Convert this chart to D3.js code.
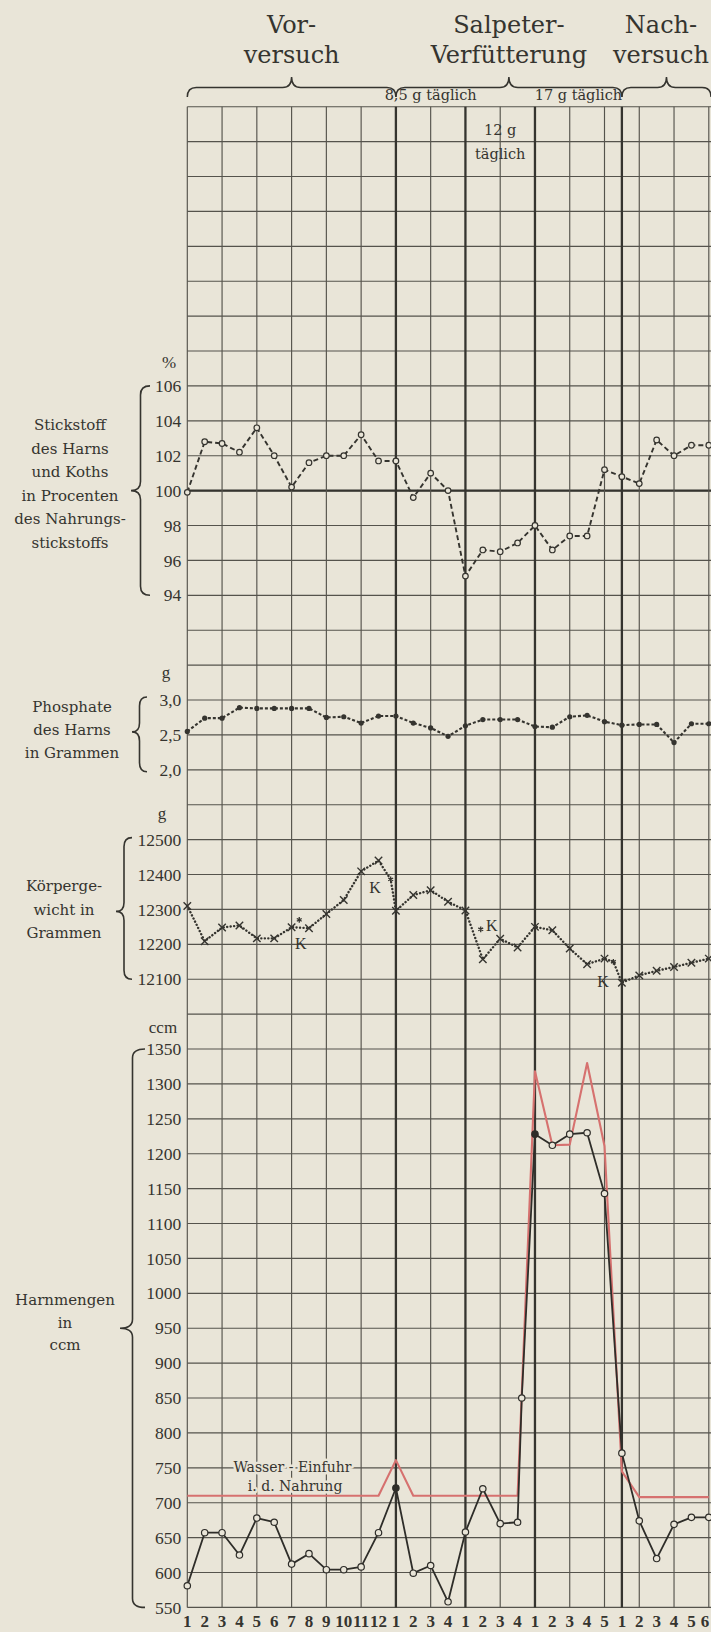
<!DOCTYPE html>
<html>
<head>
<meta charset="utf-8">
<script src="https://cdn.jsdelivr.net/npm/d3@7"></script>
<style>
  html, body { margin: 0; padding: 0; background: #e9e5d8; }
  svg { display: block; }
</style>
</head>
<body>
<svg id="chart" width="711" height="1632"></svg>
<script>
// ---- data ---------------------------------------------------------------
const dayLabels = ["1","2","3","4","5","6","7","8","9","10","11","12",
                   "1","2","3","4", "1","2","3","4", "1","2","3","4","5",
                   "1","2","3","4","5","6"];

const phaseNames = [["Vor-", "versuch"], ["Salpeter-", "Verfütterung"], ["Nach-", "versuch"]];
const phaseStart = [0, 12, 25];
const phaseEnd   = [12, 25, 30.13];

const doseLabels = [["8,5 g täglich"], ["12 g", "täglich"], ["17 g täglich"]];
const doseStart  = [12, 16, 20];
const doseEnd    = [16, 20, 25];

// Stickstoff des Harns und Koths in % des Nahrungsstickstoffs
const nitrogen = [99.9, 102.8, 102.7, 102.2, 103.6, 102.0, 100.2, 101.6, 102.0, 102.0,
                  103.2, 101.7, 101.7, 99.6, 101.0, 100.0, 95.1, 96.6, 96.5, 97.0,
                  98.0, 96.6, 97.4, 97.4, 101.2, 100.8, 100.4, 102.9, 102.0, 102.6, 102.6];
const nitrogenTicks = [94, 96, 98, 100, 102, 104, 106];

// Phosphate des Harns in g
const phosphate = [2.55, 2.74, 2.74, 2.89, 2.88, 2.88, 2.88, 2.88, 2.75, 2.76,
                   2.67, 2.77, 2.77, 2.67, 2.60, 2.48, 2.63, 2.72, 2.72, 2.72,
                   2.62, 2.61, 2.76, 2.78, 2.69, 2.64, 2.65, 2.65, 2.39, 2.66, 2.66];
const phosphateTicks = [2.0, 2.5, 3.0];

// Körpergewicht in g
const weight = [12310, 12209, 12248, 12254, 12217, 12217, 12249, 12246, 12287, 12327,
                12409, 12440, 12296, 12341, 12355, 12322, 12297, 12157, 12216, 12191,
                12250, 12240, 12188, 12143, 12159, 12090, 12111, 12124, 12135, 12147, 12159];
const weightTicks = [12100, 12200, 12300, 12400, 12500];
// weighings after defecation (Kot), marked * with a "K"
const kotDay    = [6.44, 11.70, 16.88, 24.51];
const kotWeight = [12270, 12386, 12243, 12150];
const kotOnLine = [false, true, false, true];
const kotLabelDay    = [6.53, 10.80, 17.51, 23.92];
const kotLabelWeight = [12204, 12364, 12255, 12095];

// Harnmengen in ccm
const urine = [581, 657, 657, 625, 678, 672, 612, 627, 604, 604,
               608, 657, 721, 599, 610, 558, 658, 720, 670, 672,
               1228, 1212, 1228, 1230, 1143, 771, 674, 620, 669, 679, 679];
const urineExtraDay = [19.24];
const urineExtraValue = [850];
const urineFilledDays = [12, 20];
// Wasser-Einfuhr in der Nahrung
const water = [710, 710, 710, 710, 710, 710, 710, 710, 710, 710,
               710, 710, 761, 710, 710, 710, 710, 710, 710, 710,
               1318, 1212, 1213, 1330, 1211, 745, 708, 708, 708, 708, 708];
const urineTicks = d3.range(550, 1351, 50);

// ---- layout ---------------------------------------------------------------
const W = 711, H = 1632;
const paper = "#e9e5d8";
const ink = "#35342f";
const gridInk = "#55534c";
const serif = "'DejaVu Serif', serif";
const numSerif = "'Liberation Serif', 'Times New Roman', serif";

const svg = d3.select("#chart");
svg.append("rect").attr("width", W).attr("height", H).attr("fill", paper);

const x = d3.scaleLinear().domain([0, 30]).range([187.3, 708.8]);
const row = d3.scaleLinear().domain([0, 43]).range([106.7, 1607.4]);

const yN = d3.scaleLinear().domain([94, 106]).range([row(14), row(8)]);
const yP = d3.scaleLinear().domain([2, 3]).range([row(19), row(17)]);
const yW = d3.scaleLinear().domain([12100, 12500]).range([row(25), row(21)]);
const yU = d3.scaleLinear().domain([550, 1350]).range([row(43), row(27)]);

// ---- grid ---------------------------------------------------------------
const grid = svg.append("g");
grid.selectAll("line.h").data(d3.range(44)).join("line")
  .attr("class", "h")
  .attr("x1", x(0)).attr("x2", W)
  .attr("y1", d => row(d)).attr("y2", d => row(d))
  .attr("stroke", gridInk).attr("stroke-width", 1.15);

// reference line at 100 %
grid.append("line")
  .attr("x1", x(0)).attr("x2", W)
  .attr("y1", yN(100)).attr("y2", yN(100))
  .attr("stroke", ink).attr("stroke-width", 2.4);

const vDays = d3.range(0, 31, 2).concat([25]);
const heavyDays = new Set([12, 16, 20, 25]);
grid.selectAll("line.v").data(vDays).join("line")
  .attr("class", "v")
  .attr("x1", d => x(d)).attr("x2", d => x(d))
  .attr("y1", row(0)).attr("y2", row(43))
  .attr("stroke", d => heavyDays.has(d) ? ink : gridInk)
  .attr("stroke-width", d => heavyDays.has(d) ? 2.3 : 1.15);

// ---- header -------------------------------------------------------------
function hBrace(x1, x2, yEnd, yMid, yTip) {
  const xt = (x1 + x2) / 2, q = 9;
  return `M${x1},${yEnd} Q${x1},${yMid} ${x1 + q},${yMid} L${xt - q},${yMid} ` +
         `Q${xt},${yMid} ${xt},${yTip} Q${xt},${yMid} ${xt + q},${yMid} ` +
         `L${x2 - q},${yMid} Q${x2},${yMid} ${x2},${yEnd}`;
}
function vBrace(xEnd, y1, y2, xTip, yTip) {
  const xm = (xEnd + xTip) / 2, q = 9;
  return `M${xEnd},${y1} Q${xm},${y1} ${xm},${y1 + q} L${xm},${yTip - q} ` +
         `Q${xm},${yTip} ${xTip},${yTip} Q${xm},${yTip} ${xm},${yTip + q} ` +
         `L${xm},${y2 - q} Q${xm},${y2} ${xEnd},${y2}`;
}

const head = svg.append("g").attr("fill", ink).attr("font-family", serif);
phaseNames.forEach((lines, i) => {
  // the last phase title is kept clear of the right-hand edge
  const cx = Math.min(x((phaseStart[i] + phaseEnd[i]) / 2), W - 50);
  lines.forEach((t, j) => {
    head.append("text").attr("x", cx).attr("y", 33 + j * 30)
      .attr("text-anchor", "middle").attr("font-size", 24).text(t);
  });
  svg.append("path")
    .attr("d", hBrace(x(phaseStart[i]), x(phaseEnd[i]), 97, 87.5, 77))
    .attr("fill", "none").attr("stroke", ink).attr("stroke-width", 1.5);
});

doseLabels.forEach((lines, i) => {
  const cx = x((doseStart[i] + doseEnd[i]) / 2);
  const inside = lines.length > 1;
  lines.forEach((t, j) => {
    head.append("text").attr("x", cx)
      .attr("y", inside ? 135 + j * 24 : 100)
      .attr("text-anchor", "middle").attr("font-size", 14.5).text(t);
  });
});

// ---- axes & side labels -------------------------------------------------
function drawAxis(scale, ticks, fmt) {
  const ax = svg.append("g").attr("transform", `translate(${x(0)},0)`)
    .call(d3.axisLeft(scale).tickValues(ticks).tickSize(0).tickPadding(6).tickFormat(fmt));
  ax.select(".domain").remove();
  ax.selectAll("text").attr("font-family", numSerif).attr("font-size", 17.5).attr("fill", ink);
}
drawAxis(yN, nitrogenTicks, d3.format("d"));
drawAxis(yP, phosphateTicks, d => d.toFixed(1).replace(".", ","));
drawAxis(yW, weightTicks, d3.format("d"));
drawAxis(yU, urineTicks, d3.format("d"));

const units = [["%", 169, 368], ["g", 166, 678], ["g", 162, 819], ["ccm", 163, 1033]];
units.forEach(([t, ux, uy]) => {
  svg.append("text").attr("x", ux).attr("y", uy).attr("text-anchor", "middle")
    .attr("font-family", numSerif).attr("font-size", 17).attr("fill", ink).text(t);
});

const sideLabels = [
  { lines: ["Stickstoff", "des Harns", "und Koths", "in Procenten", "des Nahrungs-", "stickstoffs"], cx: 70, y0: 430, dy: 23.5 },
  { lines: ["Phosphate", "des Harns", "in Grammen"], cx: 72, y0: 712, dy: 23 },
  { lines: ["Körperge-", "wicht in", "Grammen"], cx: 64, y0: 891, dy: 23.5 },
  { lines: ["Harnmengen", "in", "ccm"], cx: 65, y0: 1305, dy: 22.5 }
];
sideLabels.forEach(s => {
  s.lines.forEach((t, j) => {
    svg.append("text").attr("x", s.cx).attr("y", s.y0 + j * s.dy)
      .attr("text-anchor", "middle").attr("font-family", serif)
      .attr("font-size", 15).attr("fill", ink).text(t);
  });
});

const braces = [
  vBrace(150, yN(106), yN(94), 131, yN(100)),
  vBrace(147, yP(3) - 3, yP(2) + 2, 132, yP(2.5) - 3),
  vBrace(132, yW(12500) - 2, yW(12100), 116, yW(12300) + 2),
  vBrace(145, yU(1350), yU(550), 120, yU(950))
];
braces.forEach(d => svg.append("path").attr("d", d)
  .attr("fill", "none").attr("stroke", ink).attr("stroke-width", 1.6));

// day numbers along the bottom
svg.append("g").selectAll("text").data(dayLabels).join("text")
  .attr("x", (d, i) => Math.min(x(i), W - 6)).attr("y", 1627)
  .attr("text-anchor", "middle").attr("font-family", numSerif)
  .attr("font-size", 17).attr("font-weight", "bold").attr("fill", ink)
  .text(d => d);

// water intake label, knocked out of the grid
const wl = svg.append("g").attr("font-family", serif).attr("font-size", 14)
  .attr("fill", ink).attr("text-anchor", "middle")
  .attr("stroke", paper).attr("stroke-width", 5).attr("paint-order", "stroke")
  .attr("stroke-linejoin", "round");
wl.append("text").attr("x", x(6.05)).attr("y", yU(744)).text("Wasser - Einfuhr");
wl.append("text").attr("x", x(6.2)).attr("y", yU(717)).text("i. d. Nahrung");

// ---- series -------------------------------------------------------------
// nitrogen balance: dashed, open circles
svg.append("path").datum(nitrogen)
  .attr("d", d3.line().x((d, i) => x(i)).y(d => yN(d)))
  .attr("fill", "none").attr("stroke", ink).attr("stroke-width", 1.9)
  .attr("stroke-dasharray", "5,3");
svg.append("g").selectAll("circle").data(nitrogen).join("circle")
  .attr("cx", (d, i) => x(i)).attr("cy", d => yN(d)).attr("r", 2.8)
  .attr("fill", paper).attr("stroke", ink).attr("stroke-width", 1.2);

// phosphate: short dashes, filled dots
svg.append("path").datum(phosphate)
  .attr("d", d3.line().x((d, i) => x(i)).y(d => yP(d)))
  .attr("fill", "none").attr("stroke", ink).attr("stroke-width", 2.1)
  .attr("stroke-dasharray", "3,2");
svg.append("g").selectAll("circle").data(phosphate).join("circle")
  .attr("cx", (d, i) => x(i)).attr("cy", d => yP(d)).attr("r", 2.6)
  .attr("fill", ink);

// body weight: dotted, × markers
const weightPath = weight.map((v, i) => ({ day: i, value: v }))
  .concat(kotDay.map((d, i) => ({ day: d, value: kotWeight[i], on: kotOnLine[i] }))
    .filter(p => p.on))
  .sort((a, b) => a.day - b.day);
svg.append("path").datum(weightPath)
  .attr("d", d3.line().x(d => x(d.day)).y(d => yW(d.value)))
  .attr("fill", "none").attr("stroke", ink).attr("stroke-width", 2.4)
  .attr("stroke-linecap", "round").attr("stroke-dasharray", "0.1,3.4");
svg.append("g").selectAll("path").data(weight).join("path")
  .attr("transform", (d, i) => `translate(${x(i)},${yW(d)})`)
  .attr("d", d3.symbol(d3.symbolTimes, 38))
  .attr("fill", "none").attr("stroke", ink).attr("stroke-width", 1.4);
svg.append("g").selectAll("path").data(kotDay).join("path")
  .attr("transform", (d, i) => `translate(${x(d)},${yW(kotWeight[i])})`)
  .attr("d", d3.symbol(d3.symbolAsterisk, 22))
  .attr("fill", "none").attr("stroke", ink).attr("stroke-width", 1.3);
svg.append("g").selectAll("text").data(kotLabelDay).join("text")
  .attr("x", d => x(d)).attr("y", (d, i) => yW(kotLabelWeight[i]))
  .attr("dy", "0.35em").attr("text-anchor", "middle")
  .attr("font-family", numSerif).attr("font-size", 16).attr("fill", ink)
  .text("K");

// water intake (red) and urine volume (black)
svg.append("path").datum(water)
  .attr("d", d3.line().x((d, i) => x(i)).y(d => yU(d)))
  .attr("fill", "none").attr("stroke", "#d6716f").attr("stroke-width", 2.1)
  .attr("stroke-linejoin", "round");

const urinePts = urine.map((v, i) => ({ day: i, value: v }))
  .concat(urineExtraDay.map((d, i) => ({ day: d, value: urineExtraValue[i] })))
  .sort((a, b) => a.day - b.day);
svg.append("path").datum(urinePts)
  .attr("d", d3.line().x(d => x(d.day)).y(d => yU(d.value)))
  .attr("fill", "none").attr("stroke", "#2e2d29").attr("stroke-width", 1.8)
  .attr("stroke-linejoin", "round");
svg.append("g").selectAll("circle").data(urinePts).join("circle")
  .attr("cx", d => x(d.day)).attr("cy", d => yU(d.value)).attr("r", 3.2)
  .attr("fill", d => urineFilledDays.includes(d.day) ? "#2e2d29" : paper)
  .attr("stroke", "#2e2d29").attr("stroke-width", 1.2);
</script>
</body>
</html>
